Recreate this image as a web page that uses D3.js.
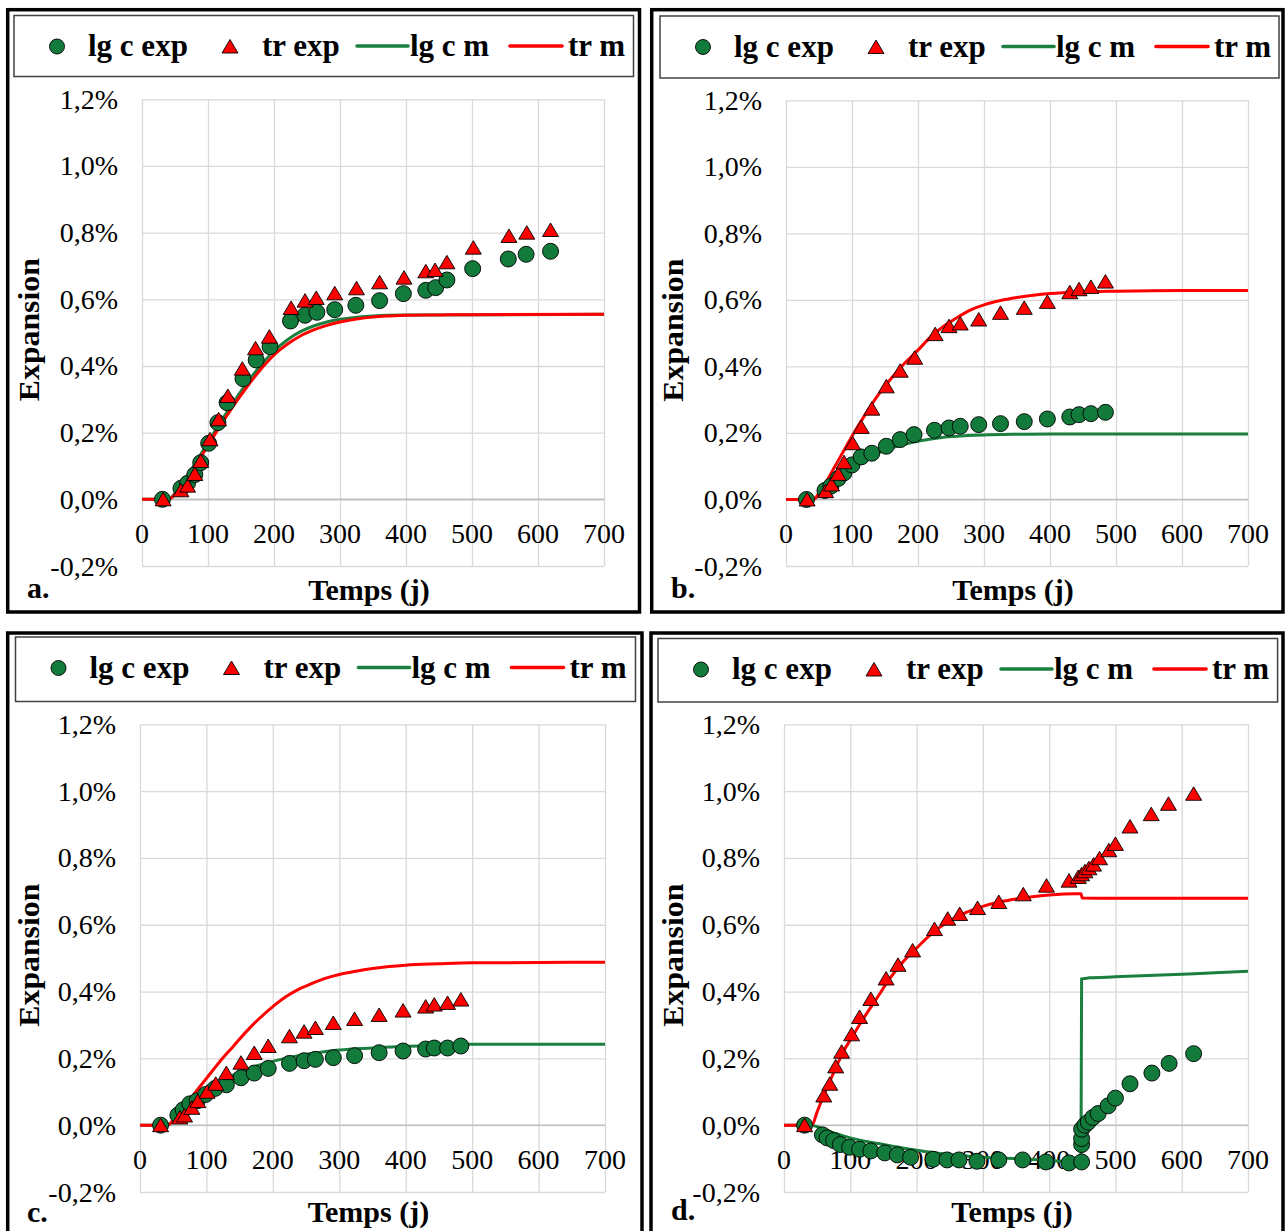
<!DOCTYPE html>
<html><head><meta charset="utf-8">
<script src="https://cdn.jsdelivr.net/npm/d3@7"></script>
</head><body style="margin:0">
<svg id="fig" width="1285" height="1231"></svg>
<script>
// ---------- shared labels ----------
const xTicks = [0,100,200,300,400,500,600,700];
const yTicks = [-0.2,0,0.2,0.4,0.6,0.8,1.0,1.2];
const yTickLabels = ["-0,2%","0,0%","0,2%","0,4%","0,6%","0,8%","1,0%","1,2%"];
const legendLabels = ["lg c exp","tr exp","lg c m","tr m"];
const panelLabels = ["a.","b.","c.","d."];
const xTitle = "Temps (j)";
const yTitle = "Expansion";

// ---------- panel a ----------
const aLgExp = [[31,0],[59,0.033],[69,0.048],[80,0.074],[89,0.11],[101,0.168],[115,0.23],[129,0.29],[153,0.362],[173,0.418],[194,0.458],[225,0.535],[247,0.552],[265,0.561],[292,0.569],[324,0.582],[360,0.596],[396,0.617],[430,0.627],[445,0.635],[462,0.658],[501,0.692],[555,0.721],[582,0.735],[619,0.744]];
const aTrExp = [[32,0],[59,0.027],[69,0.041],[80,0.076],[89,0.115],[103,0.18],[116,0.24],[130,0.31],[152,0.392],[172,0.453],[193,0.488],[226,0.574],[247,0.596],[264,0.604],[292,0.618],[325,0.633],[360,0.651],[397,0.665],[430,0.684],[444,0.688],[462,0.711],[502,0.755],[556,0.79],[583,0.80],[619,0.808]];
const aLgM = [[0,0],[40,0],[50,0.018],[60,0.045],[70,0.075],[80,0.105],[90,0.138],[100,0.17],[120,0.235],[140,0.295],[160,0.352],[180,0.402],[200,0.445],[220,0.478],[240,0.503],[260,0.52],[280,0.532],[300,0.54],[325,0.546],[350,0.55],[400,0.553],[700,0.555]];
const aTrM = [[0,0],[40,0],[50,0.015],[60,0.04],[70,0.07],[80,0.1],[90,0.13],[100,0.162],[120,0.225],[140,0.285],[160,0.34],[180,0.39],[200,0.433],[220,0.465],[240,0.49],[260,0.508],[280,0.522],[300,0.532],[325,0.541],[350,0.547],[375,0.55],[400,0.552],[450,0.553],[500,0.554],[700,0.555]];

// ---------- panel b ----------
const bLgExp = [[31,0],[59,0.027],[68,0.04],[79,0.063],[88,0.08],[100,0.104],[114,0.128],[130,0.139],[152,0.16],[173,0.18],[194,0.195],[225,0.208],[247,0.215],[264,0.22],[292,0.225],[325,0.228],[361,0.234],[396,0.242],[430,0.248],[444,0.255],[462,0.258],[484,0.262]];
const bTrExp = [[32,0],[60,0.025],[69,0.045],[79,0.077],[88,0.112],[101,0.169],[114,0.218],[130,0.273],[152,0.34],[173,0.387],[195,0.426],[226,0.497],[247,0.521],[264,0.529],[292,0.541],[325,0.561],[361,0.576],[396,0.594],[430,0.623],[444,0.632],[462,0.639],[484,0.655]];
const bLgM = [[0,0],[40,0],[50,0.015],[60,0.035],[70,0.052],[80,0.068],[90,0.084],[100,0.098],[120,0.122],[140,0.14],[160,0.155],[180,0.166],[200,0.175],[225,0.183],[250,0.189],[275,0.192],[300,0.194],[350,0.196],[400,0.197],[700,0.197]];
const bTrM = [[0,0],[42,0],[50,0.02],[60,0.05],[70,0.085],[80,0.12],[90,0.155],[100,0.19],[120,0.255],[140,0.315],[160,0.365],[180,0.41],[200,0.449],[220,0.49],[240,0.522],[260,0.548],[280,0.57],[300,0.585],[325,0.598],[350,0.607],[375,0.614],[400,0.619],[450,0.624],[500,0.626],[600,0.628],[700,0.628]];

// ---------- panel c ----------
const cLgExp = [[31,0],[57,0.03],[65,0.046],[75,0.064],[86,0.073],[99,0.092],[113,0.11],[130,0.121],[152,0.142],[172,0.156],[193,0.17],[225,0.185],[247,0.193],[264,0.197],[291,0.202],[323,0.208],[360,0.217],[396,0.222],[430,0.228],[443,0.231],[463,0.231],[483,0.237]];
const cTrExp = [[31,0],[60,0.023],[67,0.029],[78,0.052],[87,0.072],[101,0.1],[114,0.124],[130,0.156],[152,0.187],[172,0.216],[193,0.237],[225,0.266],[247,0.28],[264,0.291],[291,0.306],[323,0.318],[360,0.33],[396,0.343],[430,0.355],[443,0.361],[463,0.366],[483,0.376]];
const cLgM = [[0,0],[42,0],[50,0.015],[60,0.035],[70,0.055],[80,0.072],[90,0.088],[100,0.103],[120,0.13],[140,0.15],[160,0.166],[180,0.18],[200,0.191],[225,0.203],[250,0.212],[275,0.219],[300,0.225],[350,0.231],[400,0.236],[450,0.239],[490,0.242],[700,0.242]];
const cTrM = [[0,0],[42,0],[50,0.015],[60,0.04],[70,0.065],[80,0.09],[90,0.115],[100,0.14],[120,0.19],[140,0.235],[160,0.28],[180,0.32],[200,0.355],[220,0.385],[240,0.408],[260,0.425],[280,0.44],[300,0.451],[325,0.461],[350,0.469],[375,0.475],[400,0.479],[450,0.483],[500,0.486],[600,0.487],[700,0.488]];

// ---------- panel d ----------
const dLgExp = [[31,0],[58,-0.029],[65,-0.038],[75,-0.046],[85,-0.058],[99,-0.066],[114,-0.072],[131,-0.077],[152,-0.083],[171,-0.089],[191,-0.096],[225,-0.102],[246,-0.104],[264,-0.104],[291,-0.108],[324,-0.104],[360,-0.104],[395,-0.11],[430,-0.113],[449,-0.11],[449,-0.058],[449,-0.04],[449,-0.012],[454,0],[459,0.009],[466,0.023],[474,0.035],[489,0.058],[500,0.081],[522,0.124],[555,0.156],[581,0.185],[618,0.214]];
const dTrExp = [[31,0],[60,0.089],[69,0.124],[78,0.176],[87,0.22],[102,0.272],[114,0.324],[131,0.378],[154,0.439],[172,0.48],[194,0.523],[227,0.587],[247,0.618],[265,0.632],[292,0.65],[324,0.668],[361,0.691],[396,0.717],[430,0.732],[444,0.743],[449,0.751],[454,0.76],[460,0.769],[467,0.78],[476,0.799],[490,0.823],[500,0.842],[522,0.894],[554,0.931],[580,0.962],[618,0.992]];
const dLgM = [[0,0],[40,0],[60,-0.012],[80,-0.026],[100,-0.038],[125,-0.049],[150,-0.058],[175,-0.067],[200,-0.075],[225,-0.082],[250,-0.088],[275,-0.092],[300,-0.096],[350,-0.1],[400,-0.106],[448,-0.11],[449,0.438],[460,0.441],[500,0.444],[550,0.448],[600,0.452],[650,0.456],[700,0.461]];
const dTrM = [[0,0],[42,0],[50,0.04],[60,0.09],[70,0.135],[80,0.18],[90,0.222],[100,0.255],[120,0.32],[140,0.38],[160,0.44],[180,0.49],[200,0.53],[225,0.577],[250,0.612],[275,0.637],[300,0.655],[325,0.668],[350,0.677],[375,0.684],[400,0.689],[440,0.693],[448,0.693],[450,0.68],[500,0.679],[700,0.679]];

// ---------- layout (positions only) ----------
const layouts = [
  {frame:[7.7,9.7,639.5,612],  legend:[14,15.5,633.5,76.5], x0:142, x1:604,  yTop:99.3,  yBot:566,  titleY:600,  labelXY:[27,598]},
  {frame:[651.7,9.7,1283,612], legend:[660,16,1279,78],     x0:786, x1:1248, yTop:100.3, yBot:566,  titleY:600,  labelXY:[671,598]},
  {frame:[7.7,633,642,1245],   legend:[15.5,637,635.5,701.5], x0:140, x1:605, yTop:724.3, yBot:1192, titleY:1222, labelXY:[27,1222]},
  {frame:[651,633,1283,1245],  legend:[658,638.5,1277.6,702], x0:784, x1:1248, yTop:724.3, yBot:1192, titleY:1222, labelXY:[671,1220]}
];
const series = [
  [aLgExp,aTrExp,aLgM,aTrM],
  [bLgExp,bTrExp,bLgM,bTrM],
  [cLgExp,cTrExp,cLgM,cTrM],
  [dLgExp,dTrExp,dLgM,dTrM]
];

const FONT = "'Liberation Serif', Tinos, 'Times New Roman', serif";
const GREEN_FILL = "#127a3b", GREEN_LINE = "#1a7f3f", RED = "#ff0000";
const triPath = "M0,-7L8,6.5L-8,6.5Z";

const svg = d3.select("#fig");
svg.append("rect").attr("width",1285).attr("height",1231).attr("fill","#fff");

function addText(parent, x, y, str, size, bold){
  return parent.append("text").attr("x",x).attr("y",y)
    .style("font-family",FONT,"important").style("font-size",size+"px","important")
    .style("font-weight",bold?"700":"400","important").attr("fill","#000").text(str);
}

layouts.forEach((L,i)=>{
  const [lgExp,trExp,lgM,trM] = series[i];
  const g = svg.append("g");
  g.append("rect").attr("x",L.frame[0]).attr("y",L.frame[1])
    .attr("width",L.frame[2]-L.frame[0]).attr("height",L.frame[3]-L.frame[1])
    .attr("fill","#fff").attr("stroke","#000").attr("stroke-width",3.5);

  const x = d3.scaleLinear().domain([0,700]).range([L.x0,L.x1]);
  const y = d3.scaleLinear().domain([-0.2,1.2]).range([L.yBot,L.yTop]);

  const vg = g.append("g").attr("transform",`translate(0,${L.yBot})`)
    .call(d3.axisBottom(x).tickValues(xTicks).tickSize(-(L.yBot-L.yTop)).tickFormat(""));
  const hg = g.append("g").attr("transform",`translate(${L.x0},0)`)
    .call(d3.axisLeft(y).tickValues(yTicks).tickSize(-(L.x1-L.x0)).tickFormat(""));
  [vg,hg].forEach(a=>{ a.select(".domain").remove(); a.selectAll("text").remove(); a.selectAll("line").attr("stroke","#d9d9d9").attr("stroke-width",1.3); });
  g.append("line").attr("x1",L.x0).attr("x2",L.x1).attr("y1",y(0)).attr("y2",y(0))
    .attr("stroke","#bfbfbf").attr("stroke-width",1.6);

  yTicks.forEach((v,k)=>{
    addText(g, L.x0-24, y(v)+9.5, yTickLabels[k], 28, false).attr("text-anchor","end");
  });
  xTicks.forEach(v=>{
    addText(g, x(v), y(0)+43.5, String(v), 28, false).attr("text-anchor","middle");
  });

  addText(g, (L.x0+L.x1)/2-4, L.titleY, xTitle, 30, true).attr("text-anchor","middle");
  const ey = (L.yTop+L.yBot)/2 - 3;
  addText(g, 0, 0, yTitle, 29, true)
    .attr("transform",`translate(${L.frame[0]+31.5},${ey}) rotate(-90)`)
    .attr("text-anchor","middle")
    .attr("textLength",143).attr("lengthAdjust","spacingAndGlyphs");
  addText(g, L.labelXY[0], L.labelXY[1], panelLabels[i], 30, true);

  const line = d3.line().x(d=>x(d[0])).y(d=>y(d[1])).curve(d3.curveMonotoneX);
  g.append("path").datum(lgM).attr("d",line).attr("fill","none").attr("stroke",GREEN_LINE).attr("stroke-width",3);
  g.append("path").datum(trM).attr("d",line).attr("fill","none").attr("stroke",RED).attr("stroke-width",3);

  g.append("g").selectAll("circle").data(lgExp).join("circle")
    .attr("cx",d=>x(d[0])).attr("cy",d=>y(d[1])).attr("r",8)
    .attr("fill",GREEN_FILL).attr("stroke","#000").attr("stroke-width",0.9);
  g.append("g").selectAll("path").data(trExp).join("path")
    .attr("d",triPath).attr("transform",d=>`translate(${x(d[0])},${y(d[1])})`)
    .attr("fill",RED).attr("stroke","#000").attr("stroke-width",0.9);

  const [lx,ly,lx2,ly2] = L.legend;
  g.append("rect").attr("x",lx).attr("y",ly).attr("width",lx2-lx).attr("height",ly2-ly)
    .attr("fill","#fff").attr("stroke","#404040").attr("stroke-width",1.5);
  const my = ly+31, ty = ly+40.5;
  g.append("circle").attr("cx",lx+43).attr("cy",my).attr("r",7.5)
    .attr("fill",GREEN_FILL).attr("stroke","#000").attr("stroke-width",0.9);
  g.append("path").attr("d",triPath).attr("transform",`translate(${lx+216},${my})`)
    .attr("fill",RED).attr("stroke","#000").attr("stroke-width",0.9);
  g.append("line").attr("x1",lx+343).attr("x2",lx+394).attr("y1",my-0.5).attr("y2",my-0.5)
    .attr("stroke",GREEN_LINE).attr("stroke-width",3.6).attr("stroke-linecap","round");
  g.append("line").attr("x1",lx+496).attr("x2",lx+548).attr("y1",my-0.5).attr("y2",my-0.5)
    .attr("stroke",RED).attr("stroke-width",3.6).attr("stroke-linecap","round");
  const lt = [lx+74, lx+248, lx+396, lx+554];
  legendLabels.forEach((t,k)=>{ addText(g, lt[k], ty, t, 31, true); });
});
</script>
</body></html>
